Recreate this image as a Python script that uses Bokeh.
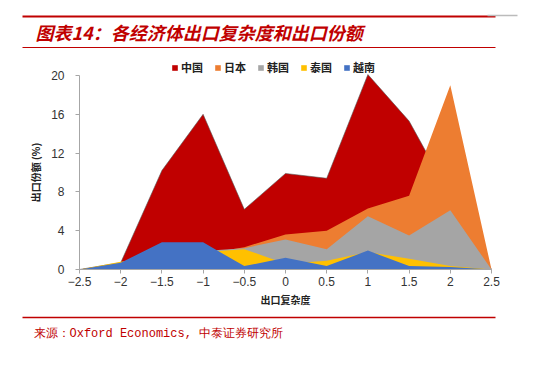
from bokeh.plotting import figure
from bokeh.models import Range1d, FixedTicker, Legend, LegendItem, Label, Arrow
from bokeh.embed import file_html
from bokeh.resources import INLINE

# ---- data ----
complexity = [-2.5, -2, -1.5, -1, -0.5, 0, 0.5, 1, 1.5, 2, 2.5]
china    = [0, 0.7, 10.2, 16.0, 6.2, 9.9, 9.4, 20.1, 15.3, 7.6, 0]
japan    = [0, 0.5, 1.2, 1.6, 2.3, 3.6, 4.0, 6.3, 7.6, 19.0, 0]
korea    = [0, 0.3, 1.2, 1.9, 2.2, 3.1, 2.1, 5.5, 3.5, 6.1, 0]
thailand = [0, 0.8, 1.5, 1.8, 2.1, 0.6, 0.9, 1.8, 1.1, 0.35, 0]
vietnam  = [0, 0.7, 2.8, 2.8, 0.35, 1.2, 0.35, 1.95, 0.35, 0.25, 0]
series_names = ["中国", "日本", "韩国", "泰国", "越南"]
series_colors = ["#C00000", "#ED7D31", "#A5A5A5", "#FFC000", "#4472C4"]
x_ticks = [-2.5, -2, -1.5, -1, -0.5, 0, 0.5, 1, 1.5, 2, 2.5]
x_tick_labels = ["−2.5", "−2", "−1.5", "−1", "−0.5", "0", "0.5", "1", "1.5", "2", "2.5"]
y_ticks = [0, 4, 8, 12, 16, 20]
x_min, x_max = -2.5, 2.5
y_min, y_max = 0, 20

title_text = "图表14：各经济体出口复杂度和出口份额"
source_text = "来源：Oxford Economics, 中泰证券研究所"
RED = "#C00000"

W, H = 541, 365
# plotting area placement on the canvas (px)
AL, AR, AT, AB = 79, 491, 75, 269
kx = (x_max - x_min) / (AR - AL)
ky = (y_max - y_min) / (AB - AT)

p = figure(width=W, height=H, output_backend="svg", toolbar_location=None,
           x_range=Range1d(x_min - AL * kx, x_max + (W - AR) * kx),
           y_range=Range1d(y_min - (H - AB) * ky, y_max + AT * ky),
           min_border=0, min_border_left=0, min_border_right=0,
           min_border_top=0, min_border_bottom=0)
p.outline_line_color = None
p.xgrid.visible = False
p.ygrid.visible = False

data = [china, japan, korea, thailand, vietnam]
renderers = []
for name, vals, col in zip(series_names, data, series_colors):
    r = p.varea(x=complexity, y1=[0] * len(vals), y2=vals, fill_color=col)
    renderers.append(r)
    if name == "中国":
        p.line(x=complexity, y=vals, line_color="#595959", line_width=1, line_alpha=0.6)

p.xaxis.fixed_location = y_min
p.yaxis.fixed_location = x_min
p.xaxis.bounds = (x_min, x_max)
p.yaxis.bounds = (y_min, y_max)
p.xaxis.ticker = FixedTicker(ticks=x_ticks)
p.xaxis.major_label_overrides = {t: l for t, l in zip(x_ticks, x_tick_labels)}
p.yaxis.ticker = FixedTicker(ticks=y_ticks)
for ax in (p.xaxis, p.yaxis):
    ax.axis_line_color = "#A6A6A6"
    ax.major_tick_line_color = "#A6A6A6"
    ax.minor_tick_line_color = None
    ax.major_tick_in = 0
    ax.major_tick_out = 4
    ax.major_label_text_font = "Liberation Sans"
    ax.major_label_text_font_size = "12px"
    ax.major_label_text_color = "#333333"
    ax.axis_label_text_font = "Noto Sans CJK SC"
    ax.axis_label_text_font_size = "10px"
    ax.axis_label_text_font_style = "bold"
    ax.axis_label_text_color = "#222222"
p.xaxis.major_label_standoff = 3
p.yaxis.major_label_standoff = 11
p.xaxis.axis_label = "出口复杂度"
p.yaxis.axis_label = "出口份额 (%)"
p.xaxis.axis_label_standoff = 3
p.yaxis.axis_label_standoff = 5

legend = Legend(items=[LegendItem(label=n, renderers=[r]) for n, r in zip(series_names, renderers)],
                orientation="horizontal", location=(171, H - 75))
legend.padding = 2
legend.spacing = 11
legend.glyph_width = 7
legend.glyph_height = 7
legend.label_standoff = 3
legend.label_text_font = "Noto Sans CJK SC"
legend.label_text_font_size = "11px"
legend.label_text_font_style = "bold"
legend.label_text_color = "#222222"
legend.border_line_color = None
legend.background_fill_alpha = 0
p.add_layout(legend, "center")

# ---- decorations (screen units, origin bottom-left of canvas) ----
def rule(x0, x1, y, color, width):
    p.add_layout(Arrow(x_start=x0, y_start=H - y, x_end=x1, y_end=H - y,
                       start_units="screen", end_units="screen", end=None,
                       line_color=color, line_width=width))

rule(22, 495, 16, RED, 2)
rule(487, 517, 15, "#BBBBBB", 1.5)
rule(22, 495, 47, RED, 1)
rule(22, 495, 317, RED, 1.5)

p.add_layout(Label(x=35, y=H - 31, x_units="screen", y_units="screen", text=title_text,
                   text_color=RED, text_font="Noto Sans CJK SC", text_font_size="18px",
                   text_font_style="bold italic", text_baseline="middle", text_align="left"))
p.add_layout(Label(x=33, y=H - 333, x_units="screen", y_units="screen", text=source_text,
                   text_color=RED, text_font="Liberation Mono", text_font_size="12px",
                   text_baseline="middle", text_align="left"))

open("out.html", "w").write(file_html(p, INLINE))
